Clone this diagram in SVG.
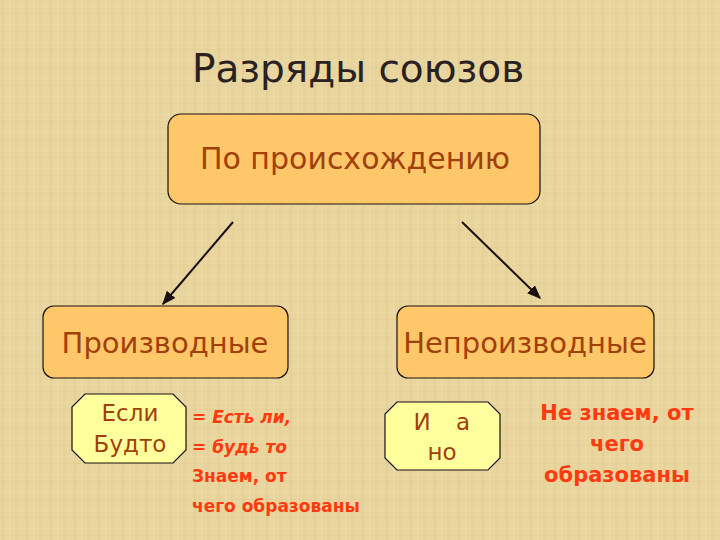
<svg xmlns="http://www.w3.org/2000/svg" width="720" height="540" viewBox="0 0 720 540">
<defs>
<pattern id="tex" width="24" height="18" patternUnits="userSpaceOnUse">
<rect width="24" height="18" fill="#e9d59e"/>
<rect x="2" width="2" height="18" fill="#dfc98f" opacity="0.45"/>
<rect x="9" width="1" height="18" fill="#f2e2b2" opacity="0.45"/>
<rect x="15" width="3" height="18" fill="#e0ca92" opacity="0.35"/>
<rect y="6" width="24" height="1" fill="#f1e1b2" opacity="0.35"/>
<rect y="13" width="24" height="1" fill="#dcc58c" opacity="0.3"/>
</pattern>
<marker id="arr" viewBox="0 0 10 10" refX="9" refY="5" markerWidth="7" markerHeight="7" orient="auto">
<path d="M0,1 L10,5 L0,9 z" fill="#1a1010"/>
</marker>
<style>
.box{fill:#fec86a;stroke:#1a1010;stroke-width:1.2}
.oct{fill:#ffff9e;stroke:#1a1010;stroke-width:1.2}
.lbl{font-family:"DejaVu Sans","Noto Sans",sans-serif;fill:#a2400c;text-anchor:middle}
.red{font-family:"DejaVu Sans","Noto Sans",sans-serif;fill:#ff3a10;font-weight:bold}
.con{stroke:#1a1010;stroke-width:2;fill:none;marker-end:url(#arr)}
</style>
</defs>
<rect width="720" height="540" fill="url(#tex)"/>
<text x="358" y="82" font-family="DejaVu Sans, Noto Sans, sans-serif" font-size="39" fill="#2a2222" text-anchor="middle">Разряды союзов</text>
<g id="connectors">
<line class="con" x1="233" y1="222" x2="163" y2="304"/>
<line class="con" x1="462" y1="222" x2="540" y2="298"/>
</g>
<g id="root">
<rect class="box" x="168" y="114" width="372" height="90" rx="13"/>
<text class="lbl" x="355" y="169" font-size="30">По происхождению</text>
</g>
<g id="derived">
<rect class="box" x="43" y="306" width="245" height="72" rx="11"/>
<text class="lbl" x="165" y="353" font-size="29">Производные</text>
</g>
<g id="nonderived">
<rect class="box" x="397" y="306" width="257" height="72" rx="11"/>
<text class="lbl" x="525" y="353" font-size="29">Непроизводные</text>
</g>
<g id="derived-examples">
<polygon class="oct" points="85,394 173,394 186,407 186,450 173,463 85,463 72,450 72,407"/>
<text class="lbl" x="130" y="421" font-size="23">Если</text>
<text class="lbl" x="130" y="452" font-size="23">Будто</text>
</g>
<g id="derived-note">
<text class="red" x="192" y="423" font-size="17" font-style="italic">= Есть ли,</text>
<text class="red" x="192" y="453" font-size="17" font-style="italic">= будь то</text>
<text class="red" x="192" y="482" font-size="17">Знаем, от</text>
<text class="red" x="192" y="512" font-size="17">чего образованы</text>
</g>
<g id="nonderived-examples">
<polygon class="oct" points="397,402 488,402 500,414 500,458 488,470 397,470 385,458 385,414"/>
<text class="lbl" x="422" y="430" font-size="23">И</text>
<text class="lbl" x="463" y="430" font-size="23">а</text>
<text class="lbl" x="442" y="460" font-size="23">но</text>
</g>
<g id="nonderived-note">
<text class="red" x="617" y="420" font-size="21" text-anchor="middle">Не знаем, от</text>
<text class="red" x="617" y="451" font-size="21" text-anchor="middle">чего</text>
<text class="red" x="617" y="482" font-size="21" text-anchor="middle">образованы</text>
</g>
</svg>
